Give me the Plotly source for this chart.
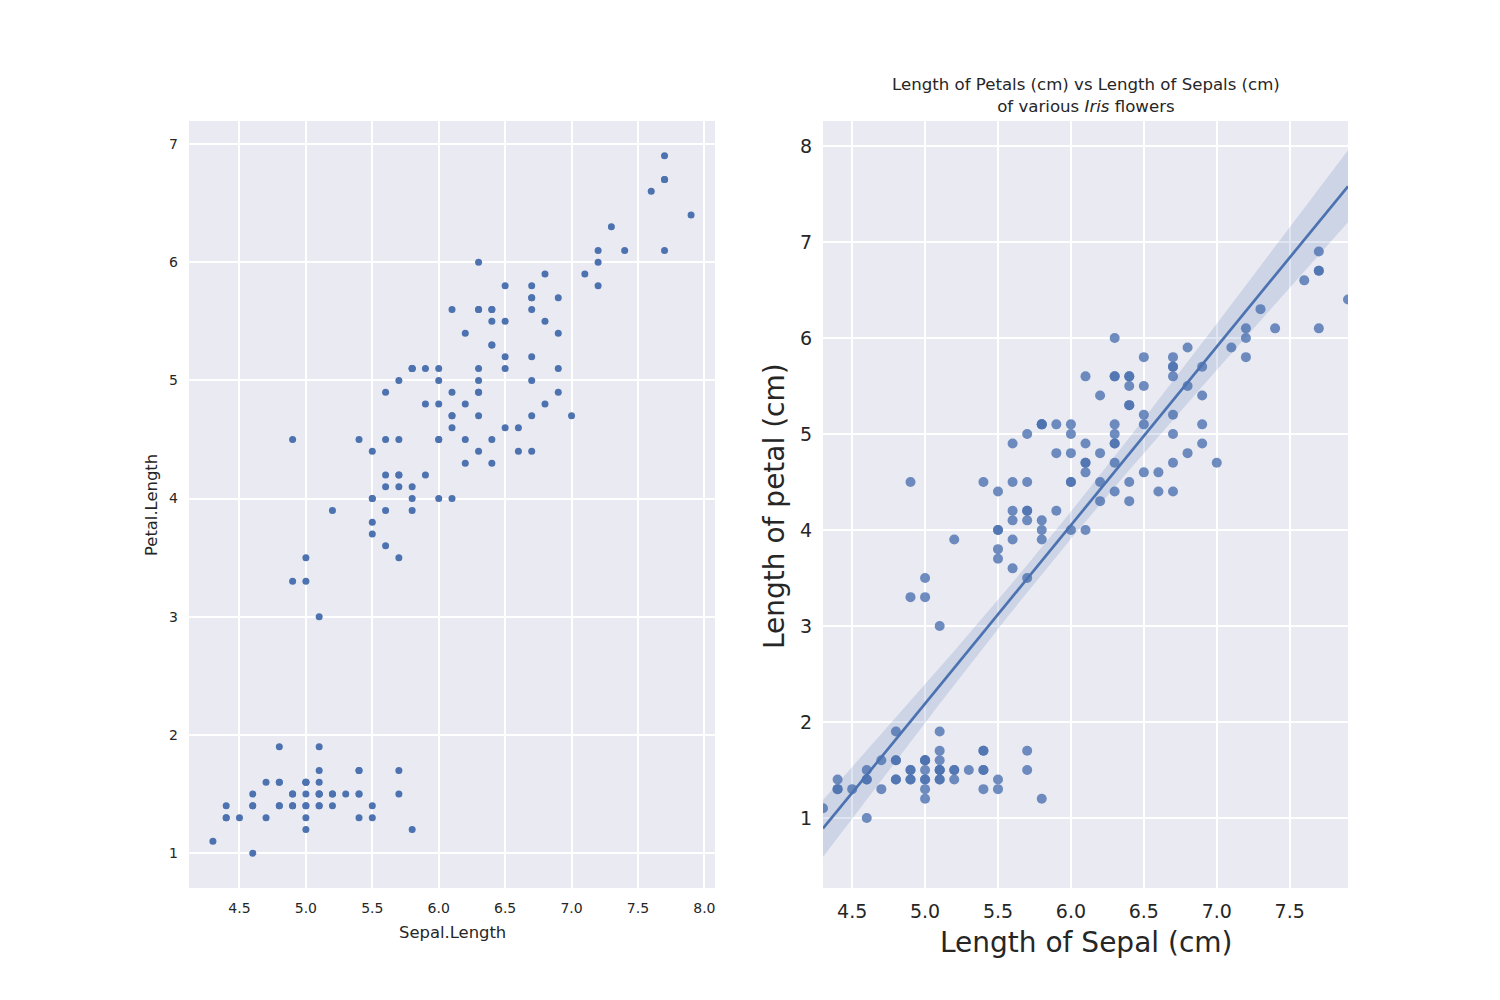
import numpy as np
import plotly.graph_objects as go

# Iris dataset: sepal length and petal length (cm)
sepal_length = [
    5.1, 4.9, 4.7, 4.6, 5.0, 5.4, 4.6, 5.0, 4.4, 4.9, 5.4, 4.8, 4.8, 4.3, 5.8, 5.7, 5.4, 5.1, 5.7, 5.1,
    5.4, 5.1, 4.6, 5.1, 4.8, 5.0, 5.0, 5.2, 5.2, 4.7, 4.8, 5.4, 5.2, 5.5, 4.9, 5.0, 5.5, 4.9, 4.4, 5.1,
    5.0, 4.5, 4.4, 5.0, 5.1, 4.8, 5.1, 4.6, 5.3, 5.0,
    7.0, 6.4, 6.9, 5.5, 6.5, 5.7, 6.3, 4.9, 6.6, 5.2, 5.0, 5.9, 6.0, 6.1, 5.6, 6.7, 5.6, 5.8, 6.2, 5.6,
    5.9, 6.1, 6.3, 6.1, 6.4, 6.6, 6.8, 6.7, 6.0, 5.7, 5.5, 5.5, 5.8, 6.0, 5.4, 6.0, 6.7, 6.3, 5.6, 5.5,
    5.5, 6.1, 5.8, 5.0, 5.6, 5.7, 5.7, 6.2, 5.1, 5.7,
    6.3, 5.8, 7.1, 6.3, 6.5, 7.6, 4.9, 7.3, 6.7, 7.2, 6.5, 6.4, 6.8, 5.7, 5.8, 6.4, 6.5, 7.7, 7.7, 6.0,
    6.9, 5.6, 7.7, 6.3, 6.7, 7.2, 6.2, 6.1, 6.4, 7.2, 7.4, 7.9, 6.4, 6.3, 6.1, 7.7, 6.3, 6.4, 6.0, 6.9,
    6.7, 6.9, 5.8, 6.8, 6.7, 6.7, 6.3, 6.5, 6.2, 5.9,
]
petal_length = [
    1.4, 1.4, 1.3, 1.5, 1.4, 1.7, 1.4, 1.5, 1.4, 1.5, 1.5, 1.6, 1.4, 1.1, 1.2, 1.5, 1.3, 1.4, 1.7, 1.5,
    1.7, 1.5, 1.0, 1.7, 1.9, 1.6, 1.6, 1.5, 1.4, 1.6, 1.6, 1.5, 1.5, 1.4, 1.5, 1.2, 1.3, 1.4, 1.3, 1.5,
    1.3, 1.3, 1.3, 1.6, 1.9, 1.4, 1.6, 1.4, 1.5, 1.4,
    4.7, 4.5, 4.9, 4.0, 4.6, 4.5, 4.7, 3.3, 4.6, 3.9, 3.5, 4.2, 4.0, 4.7, 3.6, 4.4, 4.5, 4.1, 4.5, 3.9,
    4.8, 4.0, 4.9, 4.7, 4.3, 4.4, 4.8, 5.0, 4.5, 3.5, 3.8, 3.7, 3.9, 5.1, 4.5, 4.5, 4.7, 4.4, 4.1, 4.0,
    4.4, 4.6, 4.0, 3.3, 4.2, 4.2, 4.2, 4.3, 3.0, 4.1,
    6.0, 5.1, 5.9, 5.6, 5.8, 6.6, 4.5, 6.3, 5.8, 6.1, 5.1, 5.3, 5.5, 5.0, 5.1, 5.3, 5.5, 6.7, 6.9, 5.0,
    5.7, 4.9, 6.7, 4.9, 5.7, 6.0, 4.8, 4.9, 5.6, 5.8, 6.1, 6.4, 5.6, 5.1, 5.6, 6.1, 5.6, 5.5, 4.8, 5.4,
    5.6, 5.1, 5.1, 5.9, 5.7, 5.2, 5.0, 5.2, 5.4, 5.1,
]

left_xticks = [4.5, 5.0, 5.5, 6.0, 6.5, 7.0, 7.5, 8.0]
left_yticks = [1, 2, 3, 4, 5, 6, 7]
right_xticks = [4.5, 5.0, 5.5, 6.0, 6.5, 7.0, 7.5]
right_yticks = [1, 2, 3, 4, 5, 6, 7, 8]

BLUE = "#4C72B0"
BG = "#EAEAF2"
TXT = "#262626"
FONT = "DejaVu Sans"

# Linear regression with 95% confidence interval
x = np.array(sepal_length)
y = np.array(petal_length)
n = len(x)
slope, intercept = np.polyfit(x, y, 1)
resid = y - (slope * x + intercept)
s_err = np.sqrt(np.sum(resid ** 2) / (n - 2))
sxx = np.sum((x - x.mean()) ** 2)
xs = np.linspace(x.min(), x.max(), 100)
ys = slope * xs + intercept
t_val = 1.976
ci = t_val * s_err * np.sqrt(1.0 / n + (xs - x.mean()) ** 2 / sxx)

fig = go.Figure()

# Left scatter
fig.add_trace(go.Scatter(
    x=sepal_length, y=petal_length, mode="markers",
    marker=dict(color=BLUE, size=7, line=dict(width=0)),
    xaxis="x", yaxis="y", showlegend=False,
))

# Right regression plot
fig.add_trace(go.Scatter(
    x=xs, y=ys - ci, mode="lines", line=dict(width=0, color="rgba(0,0,0,0)"),
    xaxis="x2", yaxis="y2", showlegend=False, hoverinfo="skip",
))
fig.add_trace(go.Scatter(
    x=xs, y=ys + ci, mode="lines", line=dict(width=0, color="rgba(0,0,0,0)"),
    fill="tonexty", fillcolor="rgba(76,114,176,0.18)",
    xaxis="x2", yaxis="y2", showlegend=False, hoverinfo="skip",
))
fig.add_trace(go.Scatter(
    x=sepal_length, y=petal_length, mode="markers",
    marker=dict(color=BLUE, size=10, opacity=0.8, line=dict(width=0)),
    xaxis="x2", yaxis="y2", showlegend=False,
))
fig.add_trace(go.Scatter(
    x=xs, y=ys, mode="lines", line=dict(color=BLUE, width=2.7),
    xaxis="x2", yaxis="y2", showlegend=False,
))

ax_common = dict(
    showgrid=True, gridcolor="white", gridwidth=1.6, zeroline=False,
    showline=False, ticks="", color=TXT, ticklabelstandoff=10,
)

yd = [0.112, 0.879]
fig.update_layout(
    width=1500, height=1000,
    paper_bgcolor="white", plot_bgcolor=BG,
    margin=dict(l=0, r=0, t=0, b=0),
    font=dict(family=FONT, color=TXT),
    xaxis=dict(domain=[189 / 1500, 715 / 1500], range=[4.12, 8.08],
               tickvals=left_xticks, ticktext=[f"{v:.1f}" for v in left_xticks],
               tickfont=dict(size=14), anchor="y", **ax_common),
    yaxis=dict(domain=yd, range=[0.705, 7.195], tickvals=left_yticks,
               tickfont=dict(size=14), anchor="x", **ax_common),
    xaxis2=dict(domain=[823 / 1500, 1348 / 1500], range=[4.3, 7.9],
                tickvals=right_xticks, ticktext=[f"{v:.1f}" for v in right_xticks],
                tickfont=dict(size=19), anchor="y2", **ax_common),
    yaxis2=dict(domain=yd, range=[0.27, 8.26], tickvals=right_yticks,
                tickfont=dict(size=19), anchor="x2", **ax_common),
    annotations=[
        dict(text="Sepal.Length", x=452 / 1500, y=1 - 932 / 1000, xref="paper", yref="paper",
             showarrow=False, font=dict(size=16.4, color=TXT), xanchor="center", yanchor="middle"),
        dict(text="Petal.Length", x=151 / 1500, y=1 - 505 / 1000, xref="paper", yref="paper",
             showarrow=False, textangle=-90, font=dict(size=16.4, color=TXT),
             xanchor="center", yanchor="middle"),
        dict(text="Length of Sepal (cm)", x=1086 / 1500, y=1 - 942 / 1000, xref="paper", yref="paper",
             showarrow=False, font=dict(size=28, color=TXT), xanchor="center", yanchor="middle"),
        dict(text="Length of petal (cm)", x=774 / 1500, y=1 - 506 / 1000, xref="paper", yref="paper",
             showarrow=False, textangle=-90, font=dict(size=28, color=TXT),
             xanchor="center", yanchor="middle"),
        dict(text="Length of Petals (cm) vs Length of Sepals (cm)<br>of various <i>Iris</i> flowers",
             x=1086 / 1500, y=1 - 95.5 / 1000, xref="paper", yref="paper",
             showarrow=False, font=dict(size=16.6, color=TXT), xanchor="center", yanchor="middle",
             align="center"),
    ],
)

fig.write_html("out.html", post_script="document.body.style.margin='0';",
               config={"displayModeBar": False})
